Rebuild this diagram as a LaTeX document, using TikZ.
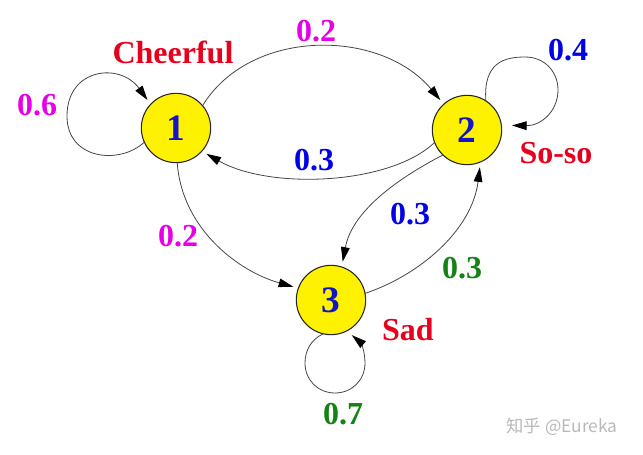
\documentclass[tikz,border=0pt]{standalone}
\usepackage{fontspec}
\setmainfont{Liberation Serif}
\newfontfamily\cjkfont{Noto Sans CJK SC}
\usetikzlibrary{arrows.meta}
\definecolor{nodeblue}{RGB}{20,20,200}
\definecolor{lblmag}{RGB}{230,0,230}
\definecolor{lblblue}{RGB}{0,0,230}
\definecolor{lblgreen}{RGB}{20,130,20}
\definecolor{lblred}{RGB}{230,0,30}
\definecolor{edgegray}{RGB}{70,70,70}
\begin{document}
\begin{tikzpicture}[x=0.75pt,y=-0.75pt,
  state/.style={circle, draw=black!85, line width=0.8pt, fill=yellow, minimum size=52pt,
    inner sep=0pt, outer sep=0pt, text=nodeblue, font=\bfseries\fontsize{28}{30}\selectfont},
  lbl/.style={inner sep=0pt, font=\bfseries\fontsize{24}{28}\selectfont},
  edge/.style={draw=edgegray, line width=0.6pt,
    -{Triangle[length=11pt,width=6.5pt,color=black,fill=black]}, shorten >=4pt},
  wmark/.style={inner sep=0pt, text=gray!55, font=\cjkfont\fontsize{13}{15}\selectfont}]
\path[use as bounding box, fill=white] (0,0) rectangle (643,454);

\node[state] (n1) at (176,128) {1};
\node[state] (n2) at (467,130) {2};
\node[state] (n3) at (331,300) {3};

% self loops
\draw[edge] (n1.204) .. controls (120,165) and (67,160) .. (67,116)
  .. controls (67,68) and (120,62) .. (n1.137);
\draw[edge, shorten >=8pt] (n2.57) .. controls (483,62) and (505,57) .. (525,57)
  .. controls (545,57) and (558,72) .. (558,90)
  .. controls (558,112) and (540,126) .. (n2.8);
\draw[edge, shorten >=5pt] (n3.257) .. controls (310,340) and (305,352) .. (305,363)
  .. controls (305,380) and (318,393) .. (335,393)
  .. controls (352,393) and (365,380) .. (365,363)
  .. controls (365,350) and (360,342) .. (n3.297);

% transitions
\draw[edge] (n1.40) .. controls (250,28) and (380,28) .. (n2.132);
\draw[edge] (n2.201) .. controls (390,185) and (270,190) .. (n1.318);
\draw[edge] (n2.226) .. controls (395,180) and (352,212) .. (n3.72);
\draw[edge] (n3.11) .. controls (420,275) and (472,230) .. (n2.293);
\draw[edge] (n1.272) .. controls (182,230) and (240,272) .. (n3.160);

% labels
\node[lbl, text=lblred] (cheer) at (173,52) {Cheerful};
\node[lbl, text=lblred] (soso) at (556,153) {So-so};
\node[lbl, text=lblred] (sad) at (408,330) {Sad};
\node[lbl, text=lblmag] (p11) at (37,105) {0.6};
\node[lbl, text=lblmag] (p12) at (316,31) {0.2};
\node[lbl, text=lblblue] (p22) at (568,50) {0.4};
\node[lbl, text=lblblue] (p21) at (314,160) {0.3};
\node[lbl, text=lblblue] (p23) at (410,214) {0.3};
\node[lbl, text=lblgreen] (p32) at (462,268) {0.3};
\node[lbl, text=lblmag] (p13) at (178,236) {0.2};
\node[lbl, text=lblgreen] (p33) at (343,414) {0.7};

\node[wmark] (wm) at (562,427) {知乎 @Eureka};
\end{tikzpicture}
\end{document}
